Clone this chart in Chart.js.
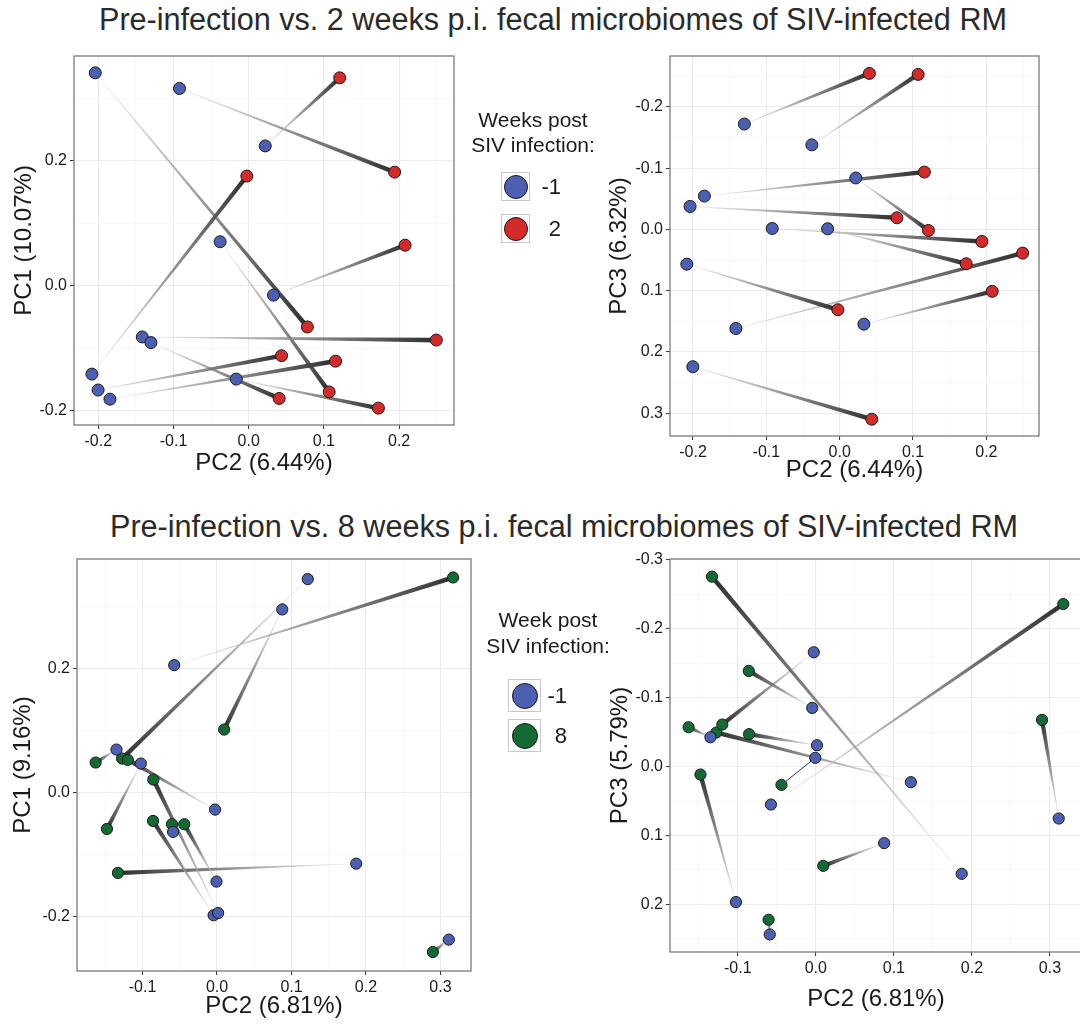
<!DOCTYPE html>
<html>
<head>
<meta charset="utf-8">
<script src="https://cdn.jsdelivr.net/npm/chart.js@4.4.1/dist/chart.umd.min.js"></script>
<style>
  body {
    margin: 0;
    width: 1080px;
    height: 1025px;
    overflow: hidden;
    position: relative;
    background: #fff;
    font-family: "Liberation Sans", Arial, sans-serif;
    color: #222;
  }
  .title {
    position: absolute;
    font-size: 30.6px;
    line-height: 30px;
    white-space: nowrap;
    color: #2a2a2a;
  }
  canvas { position: absolute; }
  .legend-line {
    position: absolute;
    font-size: 21px;
    line-height: 20px;
    white-space: nowrap;
    text-align: center;
    color: #1a1a1a;
  }
  .key {
    position: absolute;
    box-sizing: border-box;
    border: 1px solid #c8c8c8;
    background: #fff;
  }
  .key span {
    position: absolute;
    left: 50%;
    top: 50%;
    border-radius: 50%;
    border: 1px solid #1a1a1a;
    transform: translate(-50%, -50%);
  }
  .key-label {
    position: absolute;
    font-size: 22px;
    line-height: 22px;
    text-align: right;
    color: #1a1a1a;
  }
</style>
</head>
<body>

<div class="title" style="left:99px; top:4px;">Pre-infection vs. 2 weeks p.i. fecal microbiomes of SIV-infected RM</div>
<div class="title" style="left:110px; top:511px;">Pre-infection vs. 8 weeks p.i. fecal microbiomes of SIV-infected RM</div>

<canvas id="wk2PC1"></canvas>
<canvas id="wk2PC3"></canvas>
<canvas id="wk8PC1"></canvas>
<canvas id="wk8PC3"></canvas>

<div id="legends"></div>

<script>

// =========================
// DATA
// =========================

// week 2 study: one entry per animal, week -1 sample and week 2 sample
const wk2PrePC2 = [-0.204, -0.092, 0.022, -0.038, 0.033, -0.1415, -0.130, -0.2085, -0.2003, -0.1845, -0.0165];
const wk2PrePC1 = [0.341, 0.316, 0.224, 0.0705, -0.015, -0.082, -0.091, -0.1415, -0.167, -0.1816, -0.1495];
const wk2PrePC3 = [-0.0375, -0.0016, -0.084, -0.138, 0.1545, 0.1616, -0.172, 0.0566, 0.224, -0.0544, -0.0011];

const wk2PostPC2 = [0.078, 0.194, 0.121, 0.107, 0.208, 0.2495, 0.0405, -0.0025, 0.0437, 0.1155, 0.1725];
const wk2PostPC1 = [-0.066, 0.182, 0.333, -0.170, 0.065, -0.087, -0.1805, 0.1757, -0.112, -0.1207, -0.196];
const wk2PostPC3 = [-0.019, 0.0196, 0.0016, -0.253, 0.101, 0.0386, -0.2546, 0.131, 0.3096, -0.0936, 0.056];

// week 8 study: one entry per animal, week -1 sample and week 8 sample
const wk8PrePC2 = [0.1218, 0.0876, -0.0575, -0.135, -0.1023, -0.0026, -0.059, 0.1869, -0.0007, -0.0046, 0.0015, 0.3112];
const wk8PrePC1 = [0.3445, 0.2956, 0.2057, 0.0694, 0.0468, -0.0275, -0.0635, -0.1147, -0.1437, -0.198, -0.1944, -0.2374];
const wk8PrePC3 = [0.0227, 0.1111, 0.0551, -0.0425, 0.1966, -0.1657, 0.2435, 0.1556, -0.0126, -0.085, -0.0309, 0.0754];

const wk8PostPC2 = [-0.1275, 0.0096, 0.317, -0.163, -0.1478, -0.1198, -0.0605, -0.133, -0.044, -0.0859, -0.0855, 0.2898];
const wk8PostPC1 = [0.0549, 0.1017, 0.3472, 0.0485, -0.0587, 0.0528, -0.0511, -0.1297, -0.0511, -0.0458, 0.021, -0.2573];
const wk8PostPC3 = [-0.0493, 0.144, -0.2357, -0.057, 0.0116, -0.0609, 0.2222, -0.2754, 0.0266, -0.1386, -0.0469, -0.0676];

// legend entries
const wk2LegendTitle = ["Weeks post", "SIV infection:"];
const wk2LegendLabels = ["-1", "2"];
const wk8LegendTitle = ["Week post", "SIV infection:"];
const wk8LegendLabels = ["-1", "8"];


// =========================
// COMMON CONFIG
// =========================

const FONT = "'Liberation Sans', Arial, sans-serif";
const BLUE = "#4d5fb1";
const RED = "#d42a2a";
const GREEN = "#146a33";

const AXIS_TITLE_SIZE = 24;
const AXIS_TITLE_LH = AXIS_TITLE_SIZE * 1.2;


function isMajor(value, major) {

  const r = value / major;
  return Math.abs(r - Math.round(r)) < 1e-6;

}


function tickLabel(value, major) {

  if(!isMajor(value, major)) return "";

  const v = Math.round(value / major) * major;
  return (Math.abs(v) < 1e-9 ? 0 : v).toFixed(1);

}


function buildAxis(opts) {

  return {
    type: "linear",
    min: opts.min,
    max: opts.max,
    reverse: !!opts.reverse,
    afterFit: scale => {
      if(scale.isHorizontal()) scale.height = opts.size;
      else scale.width = opts.size;
    },
    border: { display: false },
    grid: {
      drawTicks: true,
      tickLength: 4,
      color: c => isMajor(c.tick.value, opts.major) ? "#ebebeb" : "#f5f5f5",
      lineWidth: c => isMajor(c.tick.value, opts.major) ? 1.1 : 0.7,
      tickColor: c => isMajor(c.tick.value, opts.major) ? "#333" : "rgba(0,0,0,0)",
      tickWidth: 1
    },
    ticks: {
      stepSize: opts.step,
      includeBounds: false,
      autoSkip: false,
      maxTicksLimit: 100,
      maxRotation: 0,
      padding: 3,
      color: "#1a1a1a",
      font: { family: FONT, size: 16 },
      callback: value => tickLabel(value, opts.major)
    },
    title: {
      display: true,
      text: opts.title,
      color: "#1a1a1a",
      padding: 0,
      font: { family: FONT, size: AXIS_TITLE_SIZE, lineHeight: 1.2 }
    }
  };

}


// tapered pre -> post connectors, light and thin at week -1, dark and wide at the later week
const pairLinks = {

  id: "pairLinks",

  beforeDatasetsDraw(chart, args, opts) {

    const { ctx, chartArea } = chart;
    const xs = chart.scales.x;
    const ys = chart.scales.y;

    ctx.save();
    ctx.beginPath();
    ctx.rect(chartArea.left, chartArea.top, chartArea.width, chartArea.height);
    ctx.clip();

    opts.pre.forEach((p, i) => {

      const q = opts.post[i];

      const x0 = xs.getPixelForValue(p.x);
      const y0 = ys.getPixelForValue(p.y);
      const x1 = xs.getPixelForValue(q.x);
      const y1 = ys.getPixelForValue(q.y);

      if(opts.plain && opts.plain.includes(i)) {
        ctx.beginPath();
        ctx.moveTo(x0, y0);
        ctx.lineTo(x1, y1);
        ctx.strokeStyle = "#27338a";
        ctx.lineWidth = 1;
        ctx.stroke();
        return;
      }

      const dx = x1 - x0;
      const dy = y1 - y0;
      const len = Math.hypot(dx, dy) || 1;
      const nx = -dy / len;
      const ny = dx / len;
      const w0 = 0.35;
      const w1 = opts.width;

      const g = ctx.createLinearGradient(x0, y0, x1, y1);
      g.addColorStop(0, "rgba(215,215,215,0.5)");
      g.addColorStop(0.5, "rgba(140,140,140,0.9)");
      g.addColorStop(1, "#2e2e2e");

      ctx.beginPath();
      ctx.moveTo(x0 + nx * w0 / 2, y0 + ny * w0 / 2);
      ctx.lineTo(x1 + nx * w1 / 2, y1 + ny * w1 / 2);
      ctx.lineTo(x1 - nx * w1 / 2, y1 - ny * w1 / 2);
      ctx.lineTo(x0 - nx * w0 / 2, y0 - ny * w0 / 2);
      ctx.closePath();
      ctx.fillStyle = g;
      ctx.fill();

    });

    ctx.restore();

  }

};


// full panel border around the plotting area
const panelBorder = {

  id: "panelBorder",

  afterDatasetsDraw(chart) {

    const { ctx, chartArea } = chart;
    ctx.save();
    ctx.strokeStyle = "#7a7a7a";
    ctx.lineWidth = 1.3;
    ctx.strokeRect(
      chartArea.left,
      chartArea.top,
      chartArea.width,
      chartArea.height
    );
    ctx.restore();

  }

};


// =========================
// PANEL
// =========================

function renderPanel(cfg) {

  const canvas = document.getElementById(cfg.id);
  const box = cfg.box;
  const area = cfg.area;

  canvas.width = box.width;
  canvas.height = box.height;
  canvas.style.left = box.left + "px";
  canvas.style.top = box.top + "px";
  canvas.style.width = box.width + "px";
  canvas.style.height = box.height + "px";

  const padLeft = cfg.yTitleX - AXIS_TITLE_LH / 2 - box.left;
  const yWidth = area.left - box.left - padLeft;
  const xBottom = cfg.xTitleY + AXIS_TITLE_LH / 2;
  const xHeight = xBottom - area.bottom;

  const pre = cfg.preX.map((x, i) => ({ x, y: cfg.preY[i] }));
  const post = cfg.postX.map((x, i) => ({ x, y: cfg.postY[i] }));

  return new Chart(canvas, {

    type: "scatter",

    data: {
      datasets: [
        {
          label: "-1",
          data: pre,
          pointRadius: cfg.radius,
          pointHoverRadius: cfg.radius,
          pointBackgroundColor: BLUE,
          pointBorderColor: "#1a1a1a",
          pointBorderWidth: 1
        },
        {
          label: cfg.postLabel,
          data: post,
          pointRadius: cfg.radius,
          pointHoverRadius: cfg.radius,
          pointBackgroundColor: cfg.postColor,
          pointBorderColor: "#1a1a1a",
          pointBorderWidth: 1
        }
      ]
    },

    options: {
      responsive: false,
      animation: false,
      devicePixelRatio: 1,
      layout: {
        padding: {
          left: padLeft,
          top: area.top - box.top,
          right: box.left + box.width - area.right,
          bottom: box.top + box.height - xBottom
        }
      },
      plugins: {
        legend: { display: false },
        tooltip: { enabled: false },
        pairLinks: {
          pre,
          post,
          width: cfg.linkWidth,
          plain: cfg.plainLinks
        }
      },
      scales: {
        x: buildAxis({
          min: cfg.xRange[0], max: cfg.xRange[1],
          step: 0.05, major: 0.1,
          size: xHeight, title: cfg.xTitle
        }),
        y: buildAxis({
          min: cfg.yRange[0], max: cfg.yRange[1],
          step: cfg.yStep, major: cfg.yMajor,
          reverse: cfg.yReverse,
          size: yWidth, title: cfg.yTitle
        })
      }
    },

    plugins: [pairLinks, panelBorder]

  });

}


// =========================
// LEGENDS
// =========================

function renderLegend(cfg) {

  const host = document.getElementById("legends");

  cfg.title.forEach((line, i) => {
    const d = document.createElement("div");
    d.className = "legend-line";
    d.textContent = line;
    d.style.left = (cfg.centerX - 100) + "px";
    d.style.width = "200px";
    d.style.top = (cfg.titleBaselines[i] - 17) + "px";
    host.appendChild(d);
  });

  cfg.labels.forEach((label, i) => {

    const key = document.createElement("div");
    key.className = "key";
    key.style.left = cfg.keyX + "px";
    key.style.top = cfg.keyTops[i] + "px";
    key.style.width = cfg.keySize + "px";
    key.style.height = cfg.keySize + "px";

    const dot = document.createElement("span");
    dot.style.width = cfg.dot + "px";
    dot.style.height = cfg.dot + "px";
    dot.style.background = cfg.colors[i];
    key.appendChild(dot);
    host.appendChild(key);

    const t = document.createElement("div");
    t.className = "key-label";
    t.textContent = label;
    t.style.left = (cfg.labelRight - 40) + "px";
    t.style.width = "40px";
    t.style.top = (cfg.keyTops[i] + cfg.keySize / 2 - 11) + "px";
    host.appendChild(t);

  });

}


// =========================
// MASTER RENDER
// =========================

renderPanel({
  id: "wk2PC1",
  box: { left: 0, top: 36, width: 470, height: 450 },
  area: { left: 74, top: 56, right: 454, bottom: 425 },
  yTitleX: 24, xTitleY: 463,
  preX: wk2PrePC2, preY: wk2PrePC1,
  postX: wk2PostPC2, postY: wk2PostPC1,
  postColor: RED, postLabel: "2",
  radius: 6, linkWidth: 4.6,
  xRange: [-0.2323, 0.273], yRange: [-0.223, 0.368],
  yStep: 0.1, yMajor: 0.2,
  xTitle: "PC2 (6.44%)", yTitle: "PC1 (10.07%)"
});

renderPanel({
  id: "wk2PC3",
  box: { left: 595, top: 36, width: 460, height: 460 },
  area: { left: 670, top: 56, right: 1039, bottom: 436 },
  yTitleX: 619, xTitleY: 470,
  preX: wk2PrePC2, preY: wk2PrePC3,
  postX: wk2PostPC2, postY: wk2PostPC3,
  postColor: RED, postLabel: "2",
  radius: 6, linkWidth: 4.6,
  xRange: [-0.2314, 0.2718], yRange: [-0.283, 0.337], yReverse: true,
  yStep: 0.05, yMajor: 0.1,
  xTitle: "PC2 (6.44%)", yTitle: "PC3 (6.32%)"
});

renderPanel({
  id: "wk8PC1",
  box: { left: 0, top: 540, width: 485, height: 485 },
  area: { left: 77, top: 559, right: 471, bottom: 971 },
  yTitleX: 23, xTitleY: 1006,
  preX: wk8PrePC2, preY: wk8PrePC1,
  postX: wk8PostPC2, postY: wk8PostPC1,
  postColor: GREEN, postLabel: "8",
  radius: 5.6, linkWidth: 4.6,
  xRange: [-0.188, 0.341], yRange: [-0.288, 0.377],
  yStep: 0.1, yMajor: 0.2,
  xTitle: "PC2 (6.81%)", yTitle: "PC1 (9.16%)"
});

renderPanel({
  id: "wk8PC3",
  box: { left: 595, top: 540, width: 500, height: 485 },
  area: { left: 670, top: 559, right: 1082, bottom: 952 },
  yTitleX: 620, xTitleY: 999,
  preX: wk8PrePC2, preY: wk8PrePC3,
  postX: wk8PostPC2, postY: wk8PostPC3,
  postColor: GREEN, postLabel: "8",
  radius: 5.6, linkWidth: 4.6,
  plainLinks: [8],
  xRange: [-0.1868, 0.341], yRange: [-0.301, 0.269], yReverse: true,
  yStep: 0.05, yMajor: 0.1,
  xTitle: "PC2 (6.81%)", yTitle: "PC3 (5.79%)"
});

renderLegend({
  title: wk2LegendTitle,
  labels: wk2LegendLabels,
  colors: [BLUE, RED],
  centerX: 533,
  titleBaselines: [126.7, 152.3],
  keyX: 501, keyTops: [172, 214], keySize: 29, dot: 22,
  labelRight: 561
});

renderLegend({
  title: wk8LegendTitle,
  labels: wk8LegendLabels,
  colors: [BLUE, GREEN],
  centerX: 548,
  titleBaselines: [627.3, 653.3],
  keyX: 508, keyTops: [679, 719], keySize: 33, dot: 24,
  labelRight: 567
});

</script>
</body>
</html>
